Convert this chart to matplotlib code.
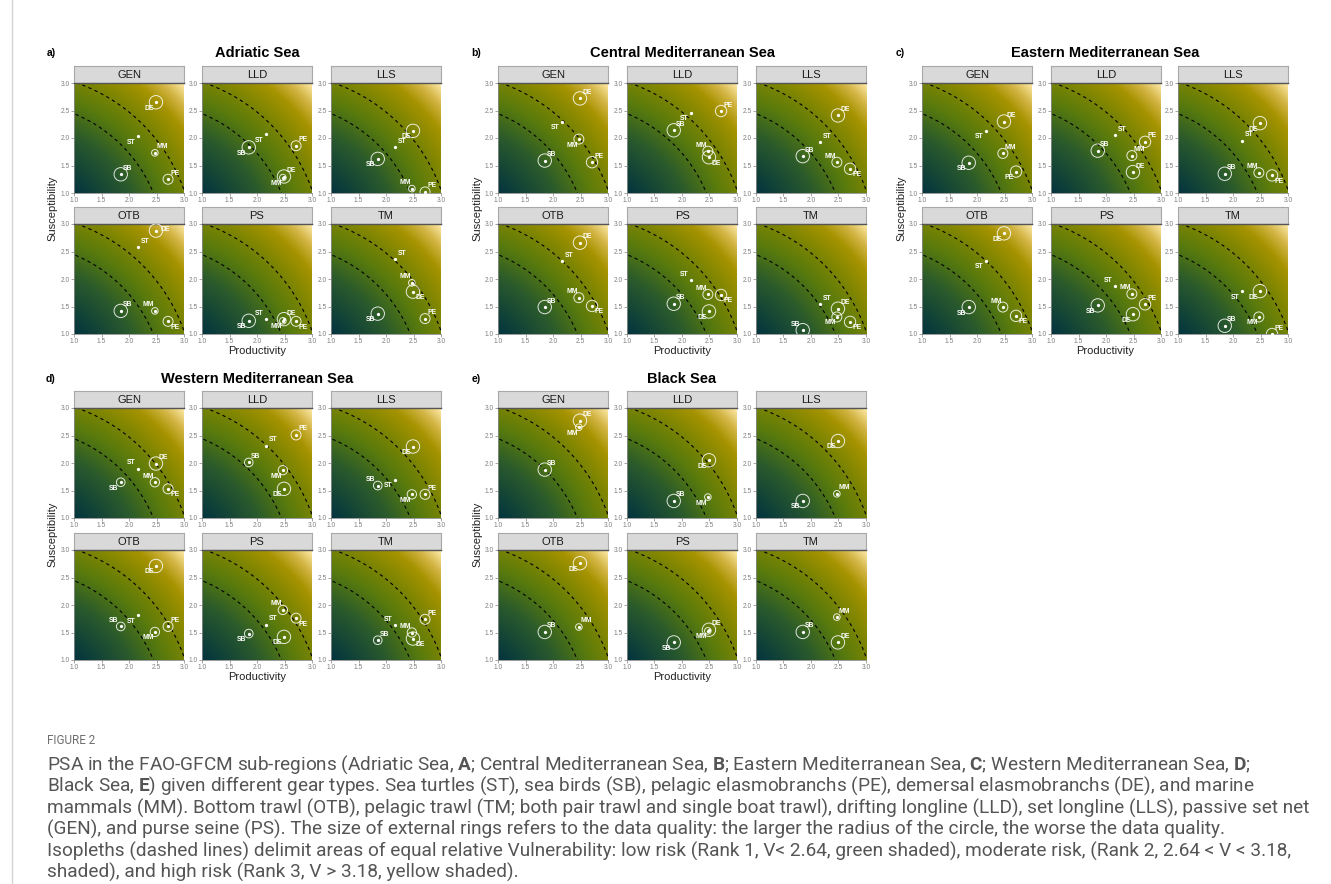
import numpy as np
import matplotlib
matplotlib.use('Agg')
import matplotlib.pyplot as plt
from matplotlib.colors import LinearSegmentedColormap
from matplotlib.lines import Line2D

# ---------------- data ----------------
SPECIES = ['ST', 'SB', 'PE', 'DE', 'MM']
PRODUCTIVITY = [2.16, 1.85, 2.71, 2.49, 2.47]
GEARS = ['GEN', 'LLD', 'LLS', 'OTB', 'PS', 'TM']
ISOPLETHS = [2.64, 3.18]
TICKS = [1.0, 1.5, 2.0, 2.5, 3.0]

# susceptibility per gear (rows in GEARS order), columns in SPECIES order
ADRIATIC_S = [
    [2.03, 1.34, 1.25, 2.65, 1.73],
    [2.07, 1.83, 1.86, 1.30, 1.28],
    [1.83, 1.62, 1.02, 2.13, 1.08],
    [2.58, 1.42, 1.23, 2.88, 1.42],
    [1.27, 1.24, 1.23, 1.27, 1.24],
    [2.36, 1.37, 1.28, 1.77, 1.93],
]
CENTRAL_S = [
    [2.30, 1.59, 1.56, 2.72, 1.98],
    [2.46, 2.14, 2.49, 1.65, 1.76],
    [1.92, 1.67, 1.44, 2.41, 1.56],
    [2.32, 1.49, 1.51, 2.66, 1.66],
    [1.98, 1.55, 1.71, 1.41, 1.72],
    [1.54, 1.07, 1.22, 1.46, 1.31],
]
EASTERN_S = [
    [2.13, 1.55, 1.39, 2.30, 1.72],
    [2.05, 1.77, 1.93, 1.38, 1.68],
    [1.95, 1.35, 1.32, 2.27, 1.37],
    [2.33, 1.49, 1.33, 2.83, 1.49],
    [1.87, 1.52, 1.54, 1.36, 1.73],
    [1.78, 1.15, 1.00, 1.78, 1.31],
]
WESTERN_S = [
    [1.90, 1.65, 1.53, 1.99, 1.65],
    [2.31, 2.01, 2.51, 1.53, 1.87],
    [1.70, 1.59, 1.43, 2.30, 1.43],
    [1.81, 1.61, 1.61, 2.71, 1.51],
    [1.64, 1.48, 1.76, 1.42, 1.91],
    [1.63, 1.36, 1.74, 1.39, 1.50],
]
BLACK_S = [
    [None, 1.88, None, 2.77, 2.65],
    [None, 1.31, None, 2.05, 1.38],
    [None, 1.31, None, 2.40, 1.44],
    [None, 1.51, None, 2.76, 1.60],
    [None, 1.32, None, 1.55, 1.53],
    [None, 1.51, None, 1.32, 1.78],
]

# data quality score (ring size; 0 = no ring), SPECIES order
ADRIATIC_Q = [0, 3, 2, 3, 1]
CENTRAL_Q = [0, 3, 2.4, 3, 2]
EASTERN_Q = [0, 3, 2.4, 3, 2]
WESTERN_Q = [0, 1.6, 2, 3, 1.8]
BLACK_Q = [0, 3, 0, 3, 1]

REGION_TITLES = ['Adriatic Sea', 'Central Mediterranean Sea', 'Eastern Mediterranean Sea',
                 'Western Mediterranean Sea', 'Black Sea']
REGION_LETTERS = ['a)', 'b)', 'c)', 'd)', 'e)']

# ---------------- label placement (style) ----------------
ADRIATIC_LAB = [
    ['ll', 'ur', 'ur', 'll', 'ur'],
    ['ll', 'll', 'ur', 'ur', 'll'],
    ['ur', 'll', 'ur', 'll', 'ul'],
    ['ur', 'ur', 'lr', 'r', 'ul'],
    ['ul', 'll', 'lr', 'ur', 'll'],
    ['ur', 'll', 'ur', 'lr', 'ul'],
]
CENTRAL_LAB = [
    ['ll', 'ur', 'ur', 'ur', 'll'],
    ['ll', 'ur', 'ur', 'lr', 'ul'],
    ['ur', 'ur', 'lr', 'ur', 'ul'],
    ['ur', 'ur', 'lr', 'ur', 'ul'],
    ['ul', 'ur', 'lr', 'll', 'ul'],
    ['ur', 'ul', 'lr', 'ur', 'll'],
]
EASTERN_LAB = [
    ['ll', 'll', 'll', 'ur', 'ur'],
    ['ur', 'ur', 'ur', 'ur', 'ur'],
    ['ur', 'ur', 'lr', 'll', 'ul'],
    ['ll', 'll', 'lr', 'll', 'ul'],
    ['ul', 'll', 'ur', 'll', 'ul'],
    ['ll', 'ur', 'ur', 'll', 'll'],
]
WESTERN_LAB = [
    ['ul', 'll', 'lr', 'ur', 'ul'],
    ['ur', 'ur', 'ur', 'll', 'll'],
    ['ll', 'ul', 'ur', 'll', 'll'],
    ['ll', 'ul', 'ur', 'll', 'll'],
    ['ur', 'll', 'lr', 'll', 'ul'],
    ['ul', 'ur', 'ur', 'lr', 'ul'],
]
BLACK_LAB = [
    [None, 'ur', None, 'ur', 'll'],
    [None, 'ur', None, 'll', 'll'],
    [None, 'll', None, 'll', 'ur'],
    [None, 'ur', None, 'll', 'ur'],
    [None, 'll', None, 'ur', 'll'],
    [None, 'ur', None, 'ur', 'ur'],
]

CAPTION_LINES = [
    r"PSA in the FAO-GFCM sub-regions (Adriatic Sea, $\mathbf{A}$; Central Mediterranean Sea, $\mathbf{B}$; Eastern Mediterranean Sea, $\mathbf{C}$; Western Mediterranean Sea, $\mathbf{D}$;",
    r"Black Sea, $\mathbf{E}$) given different gear types. Sea turtles (ST), sea birds (SB), pelagic elasmobranchs (PE), demersal elasmobranchs (DE), and marine",
    "mammals (MM). Bottom trawl (OTB), pelagic trawl (TM; both pair trawl and single boat trawl), drifting longline (LLD), set longline (LLS), passive set net",
    "(GEN), and purse seine (PS). The size of external rings refers to the data quality: the larger the radius of the circle, the worse the data quality.",
    "Isopleths (dashed lines) delimit areas of equal relative Vulnerability: low risk (Rank 1, V< 2.64, green shaded), moderate risk, (Rank 2, 2.64 < V < 3.18,",
    "shaded), and high risk (Rank 3, V > 3.18, yellow shaded).",
]

# ---------------- styling ----------------
plt.rcParams['font.family'] = ['Liberation Sans', 'DejaVu Sans']
CAP_FAMILY = 'Roboto'
plt.rcParams['mathtext.fontset'] = 'custom'
plt.rcParams['mathtext.rm'] = CAP_FAMILY
plt.rcParams['mathtext.bf'] = CAP_FAMILY + ':bold'

W, H = 1331, 884
fig = plt.figure(figsize=(W / 100, H / 100), dpi=100)
fig.patch.set_facecolor('white')

cmap = LinearSegmentedColormap.from_list('psa', [
    (0.00, '#03343f'),
    (0.30, '#2a5a2c'),
    (0.50, '#587a0d'),
    (0.65, '#7d8502'),
    (0.80, '#a69300'),
    (0.90, '#d2b443'),
    (1.00, '#ffeaa9'),
])

grid = np.linspace(1, 3, 300)
PP, SS = np.meshgrid(grid, grid)
VV = np.sqrt(PP ** 2 + SS ** 2)
TT = (VV - np.sqrt(2)) / (np.sqrt(18) - np.sqrt(2))

OFFS = {'ur': (7, 6), 'ul': (-7, 6), 'll': (-7, -6), 'lr': (7, -6), 'r': (9, 1)}


def px_axes(x, y_top, w, h):
    return fig.add_axes([x / W, 1 - (y_top + h) / H, w / W, h / H])


def draw_panel(x, strip_top, plot_top, gear, svals, quals, labs):
    sax = px_axes(x, strip_top, 110, 17)
    sax.set_facecolor('#d9d9d9')
    sax.set_xticks([]); sax.set_yticks([])
    for sp in sax.spines.values():
        sp.set_color('#a8a8a8'); sp.set_linewidth(0.8)
    sax.text(0.5, 0.47, gear, transform=sax.transAxes, ha='center', va='center',
             fontsize=8, color='#1a1a1a')

    ax = px_axes(x, plot_top, 110, 110)
    ax.imshow(TT, origin='lower', extent=[1, 3, 1, 3], cmap=cmap, vmin=0, vmax=1,
              aspect='auto', interpolation='bilinear', zorder=0)
    th = np.linspace(0, np.pi / 2, 400)
    for v in ISOPLETHS:
        ax.plot(v * np.cos(th), v * np.sin(th), color='black', lw=0.8,
                linestyle=(0, (3, 3)), zorder=2)
    ax.set_xlim(1, 3); ax.set_ylim(1, 3)
    ax.set_xticks(TICKS); ax.set_yticks(TICKS)
    ax.set_xticklabels([f'{t:.1f}' for t in TICKS])
    ax.set_yticklabels([f'{t:.1f}' for t in TICKS])
    ax.tick_params(labelsize=4.8, colors='#808080', length=2, width=0.5, pad=1)
    for side in ['left', 'bottom']:
        ax.spines[side].set_color('#8a8a8a'); ax.spines[side].set_linewidth(0.6)
    ax.spines['top'].set_color('#555555'); ax.spines['top'].set_linewidth(1.0)
    ax.spines['right'].set_visible(False)

    for sp, p, s, q, lab in zip(SPECIES, PRODUCTIVITY, svals, quals, labs):
        if s is None:
            continue
        ax.scatter([p], [s], s=5.5, c='white', linewidths=0, zorder=4)
        if q > 0:
            r_pt = (1.6 + 1.7 * q) * 0.72
            ax.scatter([p], [s], s=(2 * r_pt) ** 2, facecolors='none',
                       edgecolors='white', linewidths=0.7, alpha=0.85, zorder=3)
        dx, dy = OFFS[lab]
        ax.annotate(sp, (p, s), xytext=(dx * 0.72, dy * 0.72), textcoords='offset points',
                    ha='center', va='center', fontsize=4.9, fontweight='bold',
                    color='white', zorder=5)
    return ax


REGIONS = [
    (ADRIATIC_S, ADRIATIC_Q, ADRIATIC_LAB),
    (CENTRAL_S, CENTRAL_Q, CENTRAL_LAB),
    (EASTERN_S, EASTERN_Q, EASTERN_LAB),
    (WESTERN_S, WESTERN_Q, WESTERN_LAB),
    (BLACK_S, BLACK_Q, BLACK_LAB),
]
COL_LEFTS = [[74, 202, 331], [498, 627, 756], [922, 1051, 1178], [74, 202, 331], [498, 627, 756]]
GROUP_TOP = [0, 0, 0, 1, 1]
STRIP_TOPS = [[66, 207], [391, 533]]
PLOT_TOPS = [[83, 224], [408, 550]]
TITLE_Y = [53, 379]
LETTER_X = [51, 476, 900, 51, 476]
YLAB_X = [52, 477, 901, 52, 477]
XLAB_Y = [351, 677]

for ri, (svals, quals, labs) in enumerate(REGIONS):
    g = GROUP_TOP[ri]
    cols = COL_LEFTS[ri]
    for gi, gear in enumerate(GEARS):
        row, col = divmod(gi, 3)
        draw_panel(cols[col], STRIP_TOPS[g][row], PLOT_TOPS[g][row], gear,
                   svals[gi], quals, labs[gi])
    cx = (cols[0] + cols[2] + 110) / 2
    fig.text(cx / W, 1 - TITLE_Y[g] / H, REGION_TITLES[ri], ha='center', va='center',
             fontsize=10.5, fontweight='bold', color='black')
    fig.text(LETTER_X[ri] / W, 1 - TITLE_Y[g] / H, REGION_LETTERS[ri], ha='center',
             va='center', fontsize=7.5, fontweight='bold', color='black')
    fig.text(cx / W, 1 - XLAB_Y[g] / H, 'Productivity', ha='center', va='center',
             fontsize=8, color='#222222')
    ymid = (PLOT_TOPS[g][0] + PLOT_TOPS[g][1] + 110) / 2
    fig.text(YLAB_X[ri] / W, 1 - ymid / H, 'Susceptibility', ha='center', va='center',
             rotation=90, fontsize=8, color='#222222')

# left border line
fig.add_artist(Line2D([12 / W, 12 / W], [0, 1], color='#d4d4d4', lw=1.0))

# caption
CAP_COLOR = '#555555'
fig.text(47 / W, 1 - 741 / H, 'FIGURE 2', ha='left', va='center', fontsize=8.4,
         color='#6e6e6e', family=CAP_FAMILY)
renderer = fig.canvas.get_renderer()
widths = []
for line in CAPTION_LINES:
    probe = fig.text(0, 0, line, fontsize=10, family=CAP_FAMILY)
    widths.append(probe.get_window_extent(renderer).width)
    probe.remove()
cap_size = 10 * 1262 / max(widths)
CAP_Y = [765, 786, 808, 829, 851, 872]
for line, y in zip(CAPTION_LINES, CAP_Y):
    fig.text(47 / W, 1 - y / H, line, ha='left', va='center', fontsize=cap_size,
             color=CAP_COLOR, family=CAP_FAMILY)

fig.savefig('out.png', dpi=100)
